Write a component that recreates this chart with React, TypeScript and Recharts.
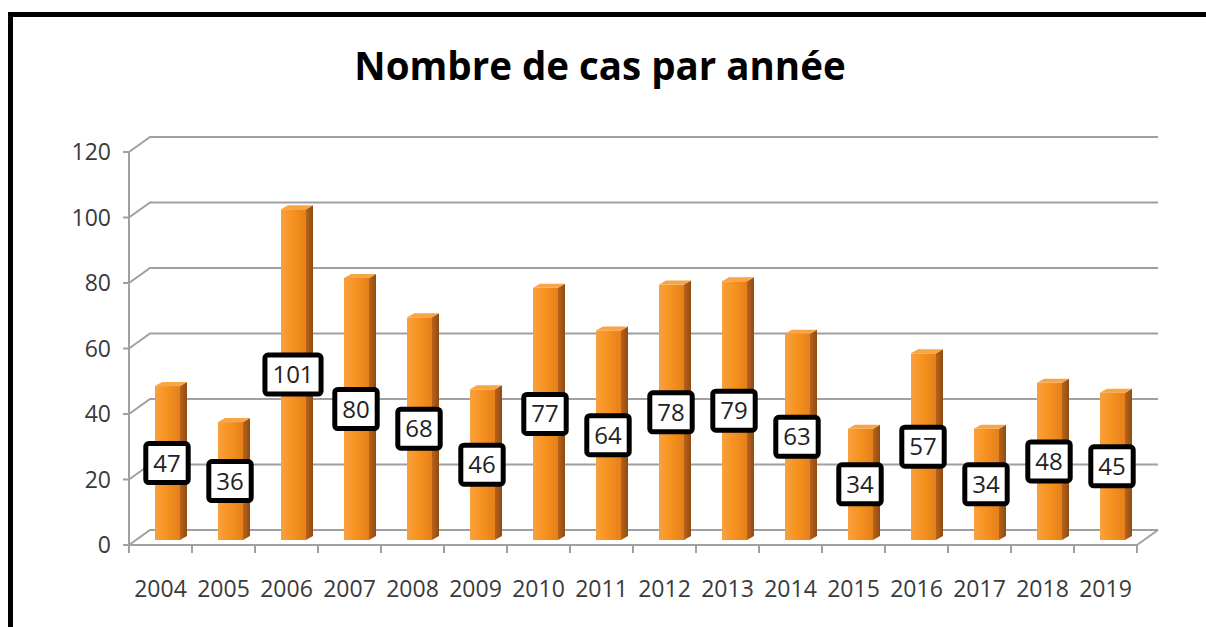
import React from 'react';
import { BarChart, Bar, XAxis, YAxis, CartesianGrid, LabelList } from 'recharts';

const years = ['2004', '2005', '2006', '2007', '2008', '2009', '2010', '2011', '2012', '2013', '2014', '2015', '2016', '2017', '2018', '2019'];
const cases = [47, 36, 101, 80, 68, 46, 77, 64, 78, 79, 63, 34, 57, 34, 48, 45];
const yTicks = [0, 20, 40, 60, 80, 100, 120];
const title = 'Nombre de cas par année';

const data = years.map((year, i) => ({ year, cases: cases[i] }));

const W = 1206;
const H = 627;
const Y_AXIS_W = 60;
const X_AXIS_H = 40;
const MARGIN = { top: 152, right: 69, bottom: 42, left: 69 };
const PLOT_W = W - MARGIN.left - Y_AXIS_W - MARGIN.right;
const PLOT_BOTTOM = H - MARGIN.bottom - X_AXIS_H;
const BAND = PLOT_W / years.length;
const DEPTH_X = 21;
const DEPTH_Y = -15;
const BAR_DX = 10;
const BAR_DY = -5;
const LABEL_DX = 6;
const FONT = '"Open Sans", "DejaVu Sans", sans-serif';
const AXIS_COLOR = '#a0a0a0';
const TEXT_COLOR = '#3a3a3a';

const GridLine = (props: any) => {
  const { x1, y1, x2, y2 } = props;
  let d = `M${x1},${y1} L${x1 + DEPTH_X},${y1 + DEPTH_Y} L${x2 + DEPTH_X},${y2 + DEPTH_Y}`;
  if (Math.abs(y1 - PLOT_BOTTOM) < 1) {
    d += ` M${x2},${y2} L${x2 + DEPTH_X},${y2 + DEPTH_Y}`;
  }
  return <path key={props.key} d={d} stroke={AXIS_COLOR} strokeWidth={2} fill="none" />;
};

const XTick = (props: any) => {
  const { x, payload, index } = props;
  const half = BAND / 2;
  return (
    <g>
      <line x1={x - half} y1={PLOT_BOTTOM} x2={x - half} y2={PLOT_BOTTOM + 8} stroke={AXIS_COLOR} strokeWidth={2} />
      {index === years.length - 1 && (
        <line x1={x + half} y1={PLOT_BOTTOM} x2={x + half} y2={PLOT_BOTTOM + 8} stroke={AXIS_COLOR} strokeWidth={2} />
      )}
      <text x={x} y={PLOT_BOTTOM + 52} textAnchor="middle" fontSize={23} fill={TEXT_COLOR} fontFamily={FONT}>
        {payload.value}
      </text>
    </g>
  );
};

const Bar3D = (props: any) => {
  const { x, y, width, height } = props;
  if (!height || height <= 0) return null;
  const side = 7;
  const cap = -4;
  const fx = x + BAR_DX;
  const fy = y + BAR_DY;
  const fw = width - side;
  return (
    <g>
      <rect x={fx} y={fy} width={fw} height={height} fill="url(#barFront)" />
      <path
        d={`M${fx + fw},${fy} L${fx + fw + side},${fy + cap} L${fx + fw + side},${fy + height + cap} L${fx + fw},${fy + height} Z`}
        fill="url(#barSide)"
      />
      <path
        d={`M${fx},${fy} L${fx + side},${fy + cap} L${fx + fw + side},${fy + cap} L${fx + fw},${fy} Z`}
        fill="#f8a447"
      />
    </g>
  );
};

const BoxLabel = (props: any) => {
  const { x, y, width, height, value } = props;
  const cx = x + width / 2 + LABEL_DX;
  const cy = y + height / 2 + BAR_DY;
  const s = String(value);
  const outer = s.length * 13.7 + 20;
  const bh = 44;
  const sw = 5;
  return (
    <g>
      <rect
        x={cx - outer / 2 + sw / 2}
        y={cy - bh / 2 + sw / 2}
        width={outer - sw}
        height={bh - sw}
        rx={3}
        fill="#ffffff"
        stroke="#000000"
        strokeWidth={sw}
      />
      <text x={cx} y={cy + 8.5} textAnchor="middle" fontSize={24} fill="#222222" fontFamily={FONT}>
        {s}
      </text>
    </g>
  );
};

export default function App() {
  return (
    <div style={{ position: 'fixed', left: 0, top: 0, width: W, height: H, overflow: 'hidden', background: '#ffffff', fontFamily: FONT }}>
      <div
        style={{
          position: 'absolute',
          left: 8,
          top: 12,
          width: 1400,
          height: 900,
          border: '5px solid #000000',
          boxSizing: 'border-box',
        }}
      />
      <svg width={W} height={110} style={{ position: 'absolute', left: 0, top: 0 }}>
        <text x={600} y={80} textAnchor="middle" fontSize={38.5} fontWeight="bold" fill="#000000" fontFamily={FONT}>
          {title}
        </text>
      </svg>
      <div style={{ position: 'absolute', left: 0, top: 0 }}>
        <BarChart width={W} height={H} data={data} margin={MARGIN} barSize={32}>
          <defs>
            <linearGradient id="barFront" x1="0" y1="0" x2="1" y2="0">
              <stop offset="0%" stopColor="#f9a040" />
              <stop offset="45%" stopColor="#f7931f" />
              <stop offset="100%" stopColor="#e5801a" />
            </linearGradient>
            <linearGradient id="barSide" x1="0" y1="0" x2="1" y2="0">
              <stop offset="0%" stopColor="#b8631a" />
              <stop offset="100%" stopColor="#8f4b12" />
            </linearGradient>
          </defs>
          <CartesianGrid vertical={false} horizontal={GridLine} />
          <XAxis
            dataKey="year"
            height={X_AXIS_H}
            axisLine={{ stroke: AXIS_COLOR, strokeWidth: 2 }}
            tickLine={false}
            tick={<XTick />}
            interval={0}
          />
          <YAxis
            width={Y_AXIS_W}
            domain={[0, 120]}
            ticks={yTicks}
            interval={0}
            axisLine={{ stroke: AXIS_COLOR, strokeWidth: 2 }}
            tickLine={{ stroke: AXIS_COLOR, strokeWidth: 2 }}
            tickSize={6}
            tickMargin={12}
            tick={{ fontSize: 23, fill: TEXT_COLOR, fontFamily: FONT }}
          />
          <Bar dataKey="cases" shape={<Bar3D />} isAnimationActive={false}>
            <LabelList dataKey="cases" content={<BoxLabel />} />
          </Bar>
        </BarChart>
      </div>
    </div>
  );
}
